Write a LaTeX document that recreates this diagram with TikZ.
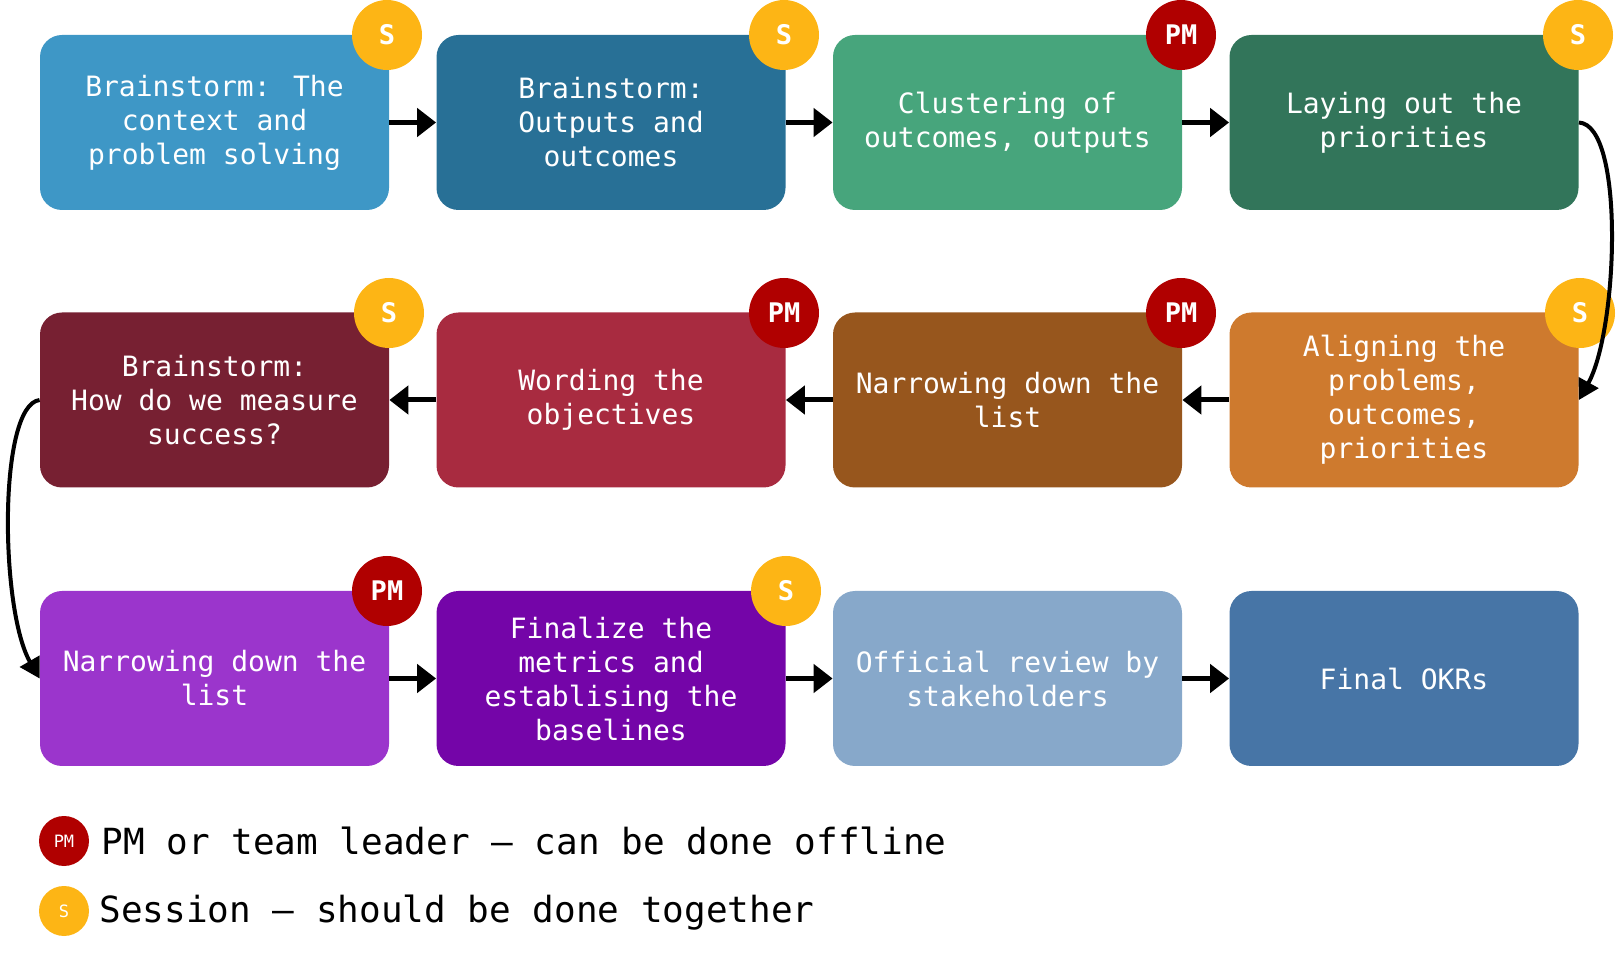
\documentclass[tikz,border=0pt]{standalone}
\usepackage{fontspec}
\setmainfont{DejaVu Sans Mono}
\usetikzlibrary{arrows.meta}
\definecolor{cA}{RGB}{62,151,198}
\definecolor{cB}{RGB}{40,112,150}
\definecolor{cC}{RGB}{71,165,124}
\definecolor{cD}{RGB}{50,117,90}
\definecolor{cE}{RGB}{206,122,46}
\definecolor{cF}{RGB}{151,86,29}
\definecolor{cG}{RGB}{168,43,64}
\definecolor{cH}{RGB}{119,32,50}
\definecolor{cI}{RGB}{155,53,204}
\definecolor{cJ}{RGB}{116,5,168}
\definecolor{cK}{RGB}{135,168,202}
\definecolor{cL}{RGB}{71,117,166}
\definecolor{sess}{RGB}{253,181,21}
\definecolor{pmred}{RGB}{176,0,0}
\tikzset{
  stepbox/.style={rectangle, rounded corners=11pt, minimum width=174.5pt,
    minimum height=87.5pt, align=center, text=white,
    font=\fontsize{14}{17}\selectfont},
  badge/.style={circle, minimum size=35pt, inner sep=0pt, text=white,
    font=\bfseries\fontsize{13.5}{14}\selectfont},
  smallbadge/.style={circle, minimum size=25pt, inner sep=0pt, text=white,
    font=\fontsize{8.5}{9}\selectfont},
  flow/.style={line width=2.5pt, -{Triangle[length=9.5pt,width=14pt]}},
  turnline/.style={line width=2pt, -{Triangle[length=10pt,width=11pt]}}
}
\begin{document}
\begin{tikzpicture}[x=0.5pt,y=-0.5pt]
\useasboundingbox (0,0) rectangle (1618,956);
% first row
\node[stepbox, fill=cA] (b1) at (214.5,122.5) {Brainstorm: The\\context and\\problem solving};
\node[stepbox, fill=cB] (b2) at (611,122.5) {Brainstorm:\\Outputs and\\outcomes};
\node[stepbox, fill=cC] (b3) at (1007.5,122.5) {Clustering of\\outcomes, outputs};
\node[stepbox, fill=cD] (b4) at (1404,122.5) {Laying out the\\priorities};
% second row (right to left)
\node[stepbox, fill=cE] (b5) at (1404,400) {Aligning the\\problems,\\outcomes,\\priorities};
\node[stepbox, fill=cF] (b6) at (1007.5,400) {Narrowing down the\\list};
\node[stepbox, fill=cG] (b7) at (611,400) {Wording the\\objectives};
\node[stepbox, fill=cH] (b8) at (214.5,400) {Brainstorm:\\How do we measure\\success?};
% third row
\node[stepbox, fill=cI] (b9) at (214.5,678.5) {Narrowing down the\\list};
\node[stepbox, fill=cJ] (b10) at (611,678.5) {Finalize the\\metrics and\\establising the\\baselines};
\node[stepbox, fill=cK] (b11) at (1007.5,678.5) {Official review by\\stakeholders};
\node[stepbox, fill=cL] (b12) at (1404,678.5) {Final OKRs};
% badges
\node[badge, fill=sess] (s1) at (387,35) {S};
\node[badge, fill=sess] (s2) at (784,35) {S};
\node[badge, fill=pmred] (p3) at (1181,35) {PM};
\node[badge, fill=sess] (s4) at (1578,35) {S};
\node[badge, fill=sess] (s5) at (1580,313) {S};
\node[badge, fill=pmred] (p6) at (1181,313) {PM};
\node[badge, fill=pmred] (p7) at (784,313) {PM};
\node[badge, fill=sess] (s8) at (389,313) {S};
\node[badge, fill=pmred] (p9) at (387,591) {PM};
\node[badge, fill=sess] (s10) at (786,591) {S};
% lines
\draw[flow] (b1) -- (b2);
\draw[flow] (b2) -- (b3);
\draw[flow] (b3) -- (b4);
\draw[turnline] (b4.east) .. controls (1625,125) and (1618,330) .. (b5.east);
\draw[flow] (b5) -- (b6);
\draw[flow] (b6) -- (b7);
\draw[flow] (b7) -- (b8);
\draw[turnline] (b8.west) .. controls (-2,405) and (0,610) .. (b9.west);
\draw[flow] (b9) -- (b10);
\draw[flow] (b10) -- (b11);
\draw[flow] (b11) -- (b12);
% legend
\node[smallbadge, fill=pmred] (lp) at (64,841) {PM};
\node[smallbadge, fill=sess] (ls) at (64,911) {S};
\node[anchor=west, inner sep=0pt, font=\fontsize{18}{20}\selectfont] (tp) at (101,841) {PM or team leader – can be done offline};
\node[anchor=west, inner sep=0pt, font=\fontsize{18}{20}\selectfont] (ts) at (99,913) {Session – should be done together};
\end{tikzpicture}
\end{document}
